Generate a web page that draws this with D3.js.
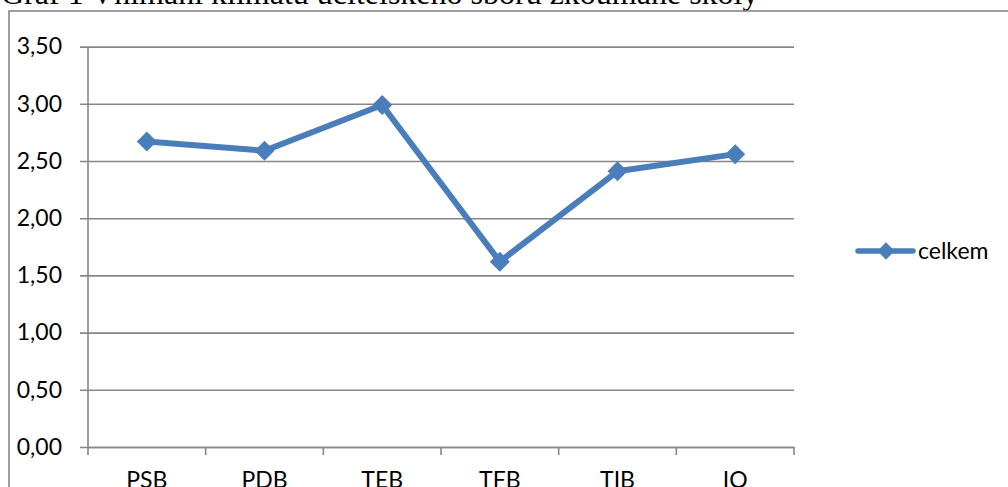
<!DOCTYPE html>
<html>
<head>
<meta charset="utf-8">
<script src="https://cdn.jsdelivr.net/npm/d3@7"></script>
<style>
  html, body { margin: 0; padding: 0; background: #fff; overflow: hidden; }
  svg { display: block; }
</style>
</head>
<body>
<svg id="chart" width="1008" height="487"></svg>
<script>
// Categories and the averaged score for each
const categories = ["PSB", "PDB", "TEB", "TFB", "TIB", "IO"];
const celkem = [2.67, 2.59, 2.99, 1.62, 2.41, 2.56];
const yTicks = [0, 0.5, 1, 1.5, 2, 2.5, 3, 3.5];
const seriesName = "celkem";
const title = "Graf 1 Vnímání klimatu učitelského sboru zkoumané školy";

const W = 1008, H = 487;
const svg = d3.select("#chart");

const plot = { left: 88, right: 794, top: 46.6, bottom: 447 };
const gridColor = "#878787";
const lineColor = "#4a7ebb";
const labelFont = "Lato, 'Open Sans', sans-serif";

// Caption above the chart frame
svg.append("text")
  .attr("x", 1).attr("y", 4)
  .attr("font-family", "'Liberation Serif', 'Times New Roman', serif")
  .attr("font-size", 32)
  .attr("fill", "#000")
  .text(title);

// Chart frame
svg.append("rect")
  .attr("x", 9).attr("y", 11)
  .attr("width", 1200).attr("height", 700)
  .attr("fill", "#fff")
  .attr("stroke", gridColor)
  .attr("stroke-width", 1.6);

const x = d3.scaleBand().domain(categories).range([plot.left, plot.right]).padding(0);
const y = d3.scaleLinear().domain([0, 3.5]).range([plot.bottom, plot.top]);

const fmt = v => d3.format(".2f")(v).replace(".", ",");

// Horizontal gridlines, with ticks extending left of the axis
const yAxis = d3.axisLeft(y)
  .tickValues(yTicks)
  .tickSize(-(plot.right - plot.left))
  .tickSizeOuter(0)
  .tickPadding(18)
  .tickFormat(fmt);

const gy = svg.append("g")
  .attr("transform", `translate(${plot.left},0)`)
  .call(yAxis);
gy.select(".domain").remove();
gy.selectAll(".tick line")
  .attr("x1", -8)
  .attr("stroke", gridColor)
  .attr("stroke-width", 1.6);
gy.selectAll(".tick text")
  .attr("x", -26)
  .attr("font-family", labelFont)
  .attr("font-size", 23)
  .attr("fill", "#000");

// Vertical axis line
svg.append("line")
  .attr("x1", plot.left).attr("x2", plot.left)
  .attr("y1", plot.top).attr("y2", plot.bottom)
  .attr("stroke", gridColor).attr("stroke-width", 1.6);

// Category axis: tick marks sit on the band boundaries
const xAxis = d3.axisBottom(x).tickSize(0).tickSizeOuter(0).tickPadding(25);
const gx = svg.append("g")
  .attr("transform", `translate(0,${plot.bottom})`)
  .call(xAxis);
gx.select(".domain")
  .attr("stroke", gridColor).attr("stroke-width", 1.6);
gx.selectAll(".tick text")
  .attr("font-family", labelFont)
  .attr("font-size", 23)
  .attr("fill", "#000");

const boundaries = categories.map(c => x(c)).concat([x(categories[categories.length - 1]) + x.bandwidth()]);
gx.selectAll(".bound")
  .data(boundaries)
  .join("line")
  .attr("class", "bound")
  .attr("x1", d => d).attr("x2", d => d)
  .attr("y1", 0).attr("y2", 8)
  .attr("stroke", gridColor).attr("stroke-width", 1.6);

// Series line
const points = categories.map((c, i) => [x(c) + x.bandwidth() / 2, y(celkem[i])]);
svg.append("path")
  .datum(points)
  .attr("d", d3.line())
  .attr("fill", "none")
  .attr("stroke", lineColor)
  .attr("stroke-width", 6)
  .attr("stroke-linejoin", "round")
  .attr("stroke-linecap", "round");

// Diamond markers
const diamond = d3.symbol().type(d3.symbolDiamond2).size(200);
svg.selectAll(".marker")
  .data(points)
  .join("path")
  .attr("class", "marker")
  .attr("transform", d => `translate(${d[0]},${d[1]}) rotate(45)`)
  .attr("d", d3.symbol().type(d3.symbolSquare).size(200))
  .attr("fill", lineColor);

// Legend
const lg = svg.append("g").attr("transform", "translate(858,251)");
lg.append("line")
  .attr("x1", 0).attr("x2", 55)
  .attr("stroke", lineColor).attr("stroke-width", 5.5)
  .attr("stroke-linecap", "round");
lg.append("path")
  .attr("transform", "translate(28,0) rotate(45)")
  .attr("d", d3.symbol().type(d3.symbolSquare).size(150))
  .attr("fill", lineColor);
lg.append("text")
  .attr("x", 60).attr("y", 0)
  .attr("dy", "0.35em")
  .attr("font-family", labelFont)
  .attr("font-size", 23)
  .attr("fill", "#000")
  .text(seriesName);
</script>
</body>
</html>
